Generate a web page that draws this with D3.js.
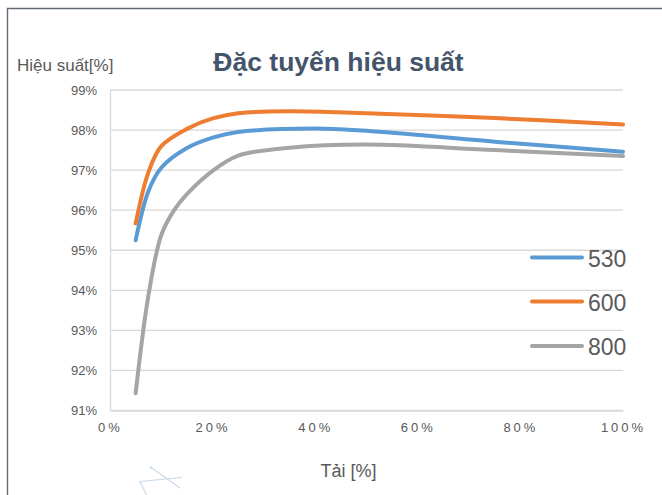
<!DOCTYPE html>
<html>
<head>
<meta charset="utf-8">
<script src="https://cdn.jsdelivr.net/npm/d3@7"></script>
<style>
  html, body { margin: 0; padding: 0; background: #ffffff; }
  svg { display: block; font-family: "Liberation Sans", Arial, sans-serif; }
</style>
</head>
<body>
<svg id="chart" width="662" height="495"></svg>
<script>
// Load levels (% of rated load) at which efficiency was measured
const load530 = [5, 7.5, 10, 15, 20, 25, 40, 50, 75, 100];
const eff530  = [95.25, 96.48, 97.06, 97.55, 97.81, 97.95, 98.04, 97.98, 97.71, 97.46];

const load600 = [5, 7.5, 10, 15, 20, 25, 35, 50, 75, 100];
const eff600  = [95.67, 96.95, 97.6, 98.03, 98.29, 98.42, 98.47, 98.42, 98.3, 98.14];

const load800 = [5, 7.5, 10, 12.5, 15, 20, 25, 35, 50, 75, 100];
const eff800  = [91.43, 93.88, 95.38, 96.0, 96.4, 96.98, 97.36, 97.56, 97.64, 97.5, 97.35];

const seriesNames = ["530", "600", "800"];
const seriesColors = ["#5B9BD5", "#ED7D31", "#A5A5A5"];

const yTicks = [91, 92, 93, 94, 95, 96, 97, 98, 99];
const xTicks = [0, 20, 40, 60, 80, 100];

const titleText = "Đặc tuyến hiệu suất";
const yAxisTitle = "Hiệu suất[%]";
const xAxisTitle = "Tải [%]";

const series = [
  { name: seriesNames[0], color: seriesColors[0], pts: load530.map((x, i) => [x, eff530[i]]) },
  { name: seriesNames[1], color: seriesColors[1], pts: load600.map((x, i) => [x, eff600[i]]) },
  { name: seriesNames[2], color: seriesColors[2], pts: load800.map((x, i) => [x, eff800[i]]) }
];

const svg = d3.select("#chart");
const W = 662, H = 495;
const plot = { left: 110, right: 623, top: 90, bottom: 410.5 };

const x = d3.scaleLinear().domain([0, 100]).range([plot.left, plot.right]);
const y = d3.scaleLinear().domain([91, 99]).range([plot.bottom, plot.top]);

// Frame around the chart area (only top and left edges fall inside the view)
svg.append("path")
  .attr("d", `M7.5,${H + 2} L7.5,8.5 L${W + 2},8.5`)
  .attr("fill", "none")
  .attr("stroke", "#626b75")
  .attr("stroke-width", 1.4);

// Horizontal gridlines
svg.append("g")
  .selectAll("line")
  .data(yTicks)
  .join("line")
  .attr("x1", plot.left).attr("x2", plot.right)
  .attr("y1", d => y(d)).attr("y2", d => y(d))
  .attr("stroke", "#d9d9d9")
  .attr("stroke-width", 1.3);

// Y axis
const yAxis = svg.append("g")
  .attr("transform", `translate(${plot.left},0)`)
  .call(d3.axisLeft(y).tickValues(yTicks).tickFormat(d => d + "%").tickSize(0).tickPadding(13));
yAxis.select(".domain").attr("stroke", "#d9d9d9").attr("stroke-width", 1.3);
yAxis.selectAll("text")
  .attr("font-size", 13)
  .attr("fill", "#595959")
  .attr("font-family", "Liberation Sans, Arial, sans-serif");

// X axis
const xAxis = svg.append("g")
  .attr("transform", `translate(0,${plot.bottom})`)
  .call(d3.axisBottom(x).tickValues(xTicks).tickFormat(d => d + "%").tickSize(0).tickPadding(12));
xAxis.select(".domain").attr("stroke", "#d9d9d9").attr("stroke-width", 1.3);
xAxis.selectAll("text")
  .attr("font-size", 13)
  .attr("letter-spacing", "3px")
  .attr("fill", "#595959")
  .attr("font-family", "Liberation Sans, Arial, sans-serif");

// Efficiency curves
const line = d3.line()
  .x(d => x(d[0]))
  .y(d => y(d[1]))
  .curve(d3.curveCatmullRom.alpha(0.5));

svg.append("g")
  .selectAll("path")
  .data(series)
  .join("path")
  .attr("d", d => line(d.pts))
  .attr("fill", "none")
  .attr("stroke", d => d.color)
  .attr("stroke-width", 4)
  .attr("stroke-linecap", "round")
  .attr("stroke-linejoin", "round");

// Legend
const legend = svg.append("g");
const legendY = [257.5, 301.5, 346];
const legendItems = legend.selectAll("g")
  .data(series)
  .join("g")
  .attr("transform", (d, i) => `translate(530,${legendY[i]})`);
legendItems.append("line")
  .attr("x1", 2).attr("x2", 52)
  .attr("stroke", d => d.color)
  .attr("stroke-width", 4)
  .attr("stroke-linecap", "round");
legendItems.append("text")
  .attr("x", 58)
  .attr("y", 9)
  .attr("font-size", 23)
  .attr("fill", "#595959")
  .text(d => d.name);

// Titles
svg.append("text")
  .attr("x", 338.5)
  .attr("y", 71)
  .attr("text-anchor", "middle")
  .attr("font-size", 26.5)
  .attr("font-weight", "bold")
  .attr("fill", "#44546A")
  .text(titleText);

svg.append("text")
  .attr("x", 17)
  .attr("y", 71)
  .attr("font-size", 17)
  .attr("fill", "#595959")
  .text(yAxisTitle);

svg.append("text")
  .attr("x", 348.5)
  .attr("y", 476.5)
  .attr("text-anchor", "middle")
  .attr("font-size", 18)
  .attr("fill", "#595959")
  .text(xAxisTitle);

// Faint pen strokes near the lower-left corner
const pen = svg.append("g")
  .attr("fill", "none")
  .attr("stroke", "#c9d8ec")
  .attr("stroke-width", 1.1)
  .attr("stroke-linecap", "round");
pen.append("path").attr("d", "M151,467.5 L180,488");
pen.append("path").attr("d", "M140,481.5 L181.5,477.5");
pen.append("path").attr("d", "M140,481.5 L146.5,495");
pen.append("circle").attr("cx", 151).attr("cy", 467.5).attr("r", 1.2).attr("fill", "#c9d8ec").attr("stroke", "none");
</script>
</body>
</html>
